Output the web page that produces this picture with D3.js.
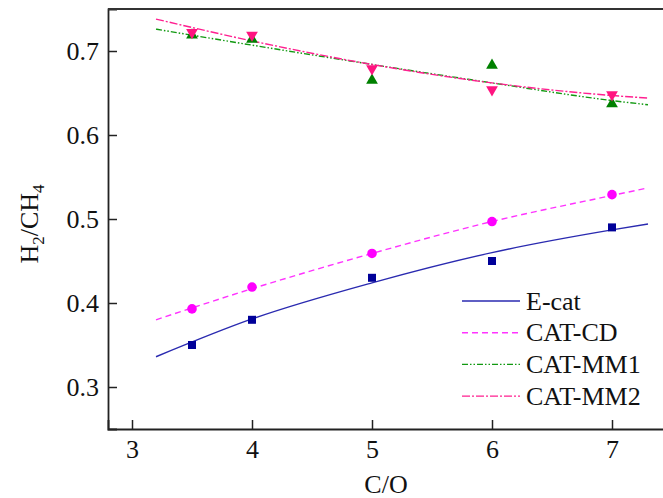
<!DOCTYPE html>
<html>
<head>
<meta charset="utf-8">
<script src="https://cdn.jsdelivr.net/npm/d3@7"></script>
<style>
  body { margin: 0; background: #fff; }
</style>
</head>
<body>
<div class="chart"></div>
<script>
// size and margins
const w = 663;
const h = 498;
const m = { left: 108, top: 9, bottom: 429 };
const font = "'Liberation Serif', 'Times New Roman', serif";
const fs = 26;

// measured points
const coRatio = [3.5, 4, 5, 6, 7];
const eCat = [0.35, 0.38, 0.43, 0.45, 0.49];
const catCD = [0.393, 0.419, 0.459, 0.497, 0.529];
const catMM1 = [0.719, 0.714, 0.665, 0.683, 0.637];
const catMM2 = [0.722, 0.719, 0.679, 0.654, 0.648];

// fitted curves
const fitX = [3.2, 4, 5, 6, 7, 7.3];
const fitECat = [0.336, 0.381, 0.424, 0.46, 0.487, 0.494];
const fitCD = [0.380, 0.417, 0.459, 0.497, 0.528, 0.537];
const fitMM1 = [0.726, 0.707, 0.684, 0.662, 0.641, 0.636];
const fitMM2 = [0.738, 0.712, 0.684, 0.662, 0.647, 0.644];

const xTicks = [3, 4, 5, 6, 7];
const yTicks = [0.3, 0.4, 0.5, 0.6, 0.7];

const series = [
  { name: "E-cat", pts: eCat, fit: fitECat, color: "#2a2ab0", mark: "#000099", dash: null, sym: d3.symbolSquare, size: 64, rot: 0 },
  { name: "CAT-CD", pts: catCD, fit: fitCD, color: "#ff33ff", mark: "#ff00ff", dash: "6,4", sym: d3.symbolCircle, size: 72, rot: 0 },
  { name: "CAT-MM1", pts: catMM1, fit: fitMM1, color: "#119911", mark: "#008000", dash: "6,2,1.5,2,1.5,2", sym: d3.symbolTriangle, size: 60, rot: 0 },
  { name: "CAT-MM2", pts: catMM2, fit: fitMM2, color: "#ff2090", mark: "#ff1480", dash: "8,2,2,2", sym: d3.symbolTriangle, size: 60, rot: 180 }
];

const svg = d3.select(".chart").append("svg")
  .attr("width", w)
  .attr("height", h)
  .style("font-family", font);

const x = d3.scaleLinear().domain([2.8, 7.5]).range([m.left, 672]);
const y = d3.scaleLinear().domain([0.25, 0.75]).range([m.bottom, m.top]);

// axes, ticks pointing inward
const xAxis = d3.axisBottom(x).tickValues(xTicks).tickSize(-9).tickPadding(11).tickFormat(d3.format("d"));
const yAxis = d3.axisLeft(y).tickValues(yTicks).tickSize(-9).tickPadding(9).tickFormat(d3.format(".1f"));

const gx = svg.append("g")
  .attr("transform", "translate(0," + m.bottom + ")")
  .call(xAxis);
const gy = svg.append("g")
  .attr("transform", "translate(" + m.left + ",0)")
  .call(yAxis);

[gx, gy].forEach(g => {
  g.attr("font-family", font).attr("font-size", fs);
  g.select(".domain").attr("stroke", "#222").attr("stroke-width", 1.8);
  g.selectAll(".tick line").attr("stroke", "#222").attr("stroke-width", 1.5);
  g.selectAll(".tick text").attr("fill", "#111");
});

// top frame line
svg.append("line")
  .attr("x1", m.left).attr("x2", w)
  .attr("y1", y(0.75)).attr("y2", y(0.75))
  .attr("stroke", "#333").attr("stroke-width", 2);

// fit lines
const line = d3.line()
  .x(d => x(d[0]))
  .y(d => y(d[1]))
  .curve(d3.curveMonotoneX);

series.forEach(s => {
  svg.append("path")
    .datum(fitX.map((v, i) => [v, s.fit[i]]))
    .attr("d", line)
    .attr("fill", "none")
    .attr("stroke", s.color)
    .attr("stroke-width", 1.4)
    .attr("stroke-dasharray", s.dash);
});

// data points
series.forEach(s => {
  svg.append("g").selectAll("path")
    .data(coRatio.map((v, i) => [v, s.pts[i]]))
    .enter()
    .append("path")
    .attr("d", d3.symbol().type(s.sym).size(s.size))
    .attr("transform", d => "translate(" + x(d[0]) + "," + y(d[1]) + ") rotate(" + s.rot + ")")
    .attr("fill", s.mark);
});

// legend
const leg = svg.append("g");
series.forEach((s, i) => {
  const ly = 301 + i * 31.7;
  leg.append("line")
    .attr("x1", 462).attr("x2", 520)
    .attr("y1", ly).attr("y2", ly)
    .attr("stroke", s.color)
    .attr("stroke-width", 1.4)
    .attr("stroke-dasharray", s.dash);
  leg.append("text")
    .attr("x", 526)
    .attr("y", ly + 8.5)
    .attr("font-size", fs)
    .attr("fill", "#111")
    .text(s.name);
});

// axis titles
svg.append("text")
  .attr("x", 386)
  .attr("y", 493)
  .attr("text-anchor", "middle")
  .attr("font-size", fs)
  .attr("fill", "#111")
  .text("C/O");

const yt = svg.append("text")
  .attr("transform", "translate(38,224) rotate(-90)")
  .attr("text-anchor", "middle")
  .attr("font-size", fs)
  .attr("fill", "#111");
yt.append("tspan").text("H");
yt.append("tspan").attr("dy", 6).attr("font-size", 17).text("2");
yt.append("tspan").attr("dy", -6).text("/CH");
yt.append("tspan").attr("dy", 6).attr("font-size", 17).text("4");
</script>
</body>
</html>
